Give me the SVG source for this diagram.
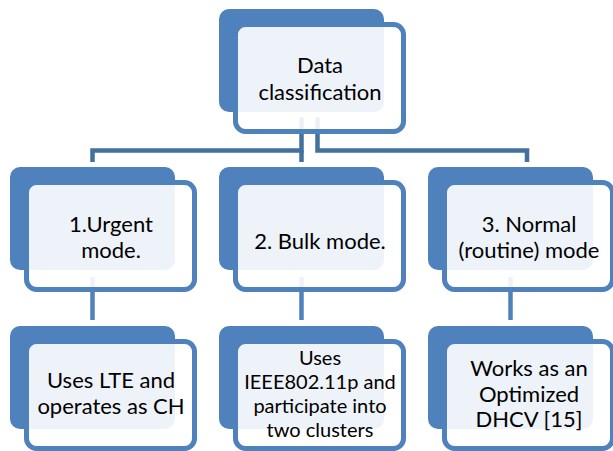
<svg xmlns="http://www.w3.org/2000/svg" width="613" height="451" viewBox="0 0 613 451">
  <style>
    .back { fill: #4F81BD; }
    .front { fill: #FFFFFF; fill-opacity: 0.9; stroke: #4F81BD; stroke-width: 5; }
    .conn { fill: none; stroke: #41719C; stroke-width: 4.5; }
    .conn2 { fill: none; stroke: #4F81BD; stroke-width: 4.5; }
    text { font-family: Lato, "Noto Sans", "Liberation Sans", sans-serif; font-size: 22px; fill: #000; text-anchor: middle; }
    .small { font-size: 20px; }
  </style>
  <rect width="613" height="451" fill="#FFFFFF"/>
  <g id="connectors">
    <path class="conn" d="M301.5 117 V150.5 H92.5 V162"/>
    <path class="conn" d="M301.5 150.5 V162"/>
    <path class="conn" d="M317.5 117 V150.5 H527 V162"/>
    <path class="conn2" d="M92.5 277 V320"/>
    <path class="conn2" d="M301.5 277 V320"/>
    <path class="conn2" d="M510.5 277 V320"/>
  </g>
  <g id="node-data-classification">
    <rect class="back" x="219" y="9" width="165" height="103" rx="10"/>
    <rect class="front" x="235.5" y="24.5" width="168" height="107" rx="10"/>
    <text x="320" y="73">Data</text>
    <text x="320" y="100">classification</text>
  </g>
  <g id="node-urgent">
    <rect class="back" x="10" y="167" width="165" height="103" rx="10"/>
    <rect class="front" x="26.5" y="182.5" width="168" height="107" rx="10"/>
    <text x="111" y="232">1.Urgent</text>
    <text x="111" y="258">mode.</text>
  </g>
  <g id="node-bulk">
    <rect class="back" x="219" y="167" width="165" height="103" rx="10"/>
    <rect class="front" x="235.5" y="182.5" width="168" height="107" rx="10"/>
    <text x="320" y="249">2. Bulk mode.</text>
  </g>
  <g id="node-normal">
    <rect class="back" x="428" y="167" width="165" height="103" rx="10"/>
    <rect class="front" x="444.5" y="182.5" width="168" height="107" rx="10"/>
    <text x="529" y="232">3. Normal</text>
    <text x="529" y="258">(routine) mode</text>
  </g>
  <g id="node-lte">
    <rect class="back" x="10" y="326" width="165" height="103" rx="10"/>
    <rect class="front" x="26.5" y="341.5" width="168" height="107" rx="10"/>
    <text x="111" y="388">Uses LTE and</text>
    <text x="111" y="414">operates as CH</text>
  </g>
  <g id="node-ieee">
    <rect class="back" x="219" y="326" width="165" height="103" rx="10"/>
    <rect class="front" x="235.5" y="341.5" width="168" height="107" rx="10"/>
    <text class="small" x="320" y="365">Uses</text>
    <text class="small" x="320" y="389">IEEE802.11p and</text>
    <text class="small" x="320" y="413">participate into</text>
    <text class="small" x="320" y="437">two clusters</text>
  </g>
  <g id="node-dhcv">
    <rect class="back" x="428" y="326" width="165" height="103" rx="10"/>
    <rect class="front" x="444.5" y="341.5" width="168" height="107" rx="10"/>
    <text x="529" y="376">Works as an</text>
    <text x="529" y="402">Optimized</text>
    <text x="529" y="427">DHCV [15]</text>
  </g>
</svg>
